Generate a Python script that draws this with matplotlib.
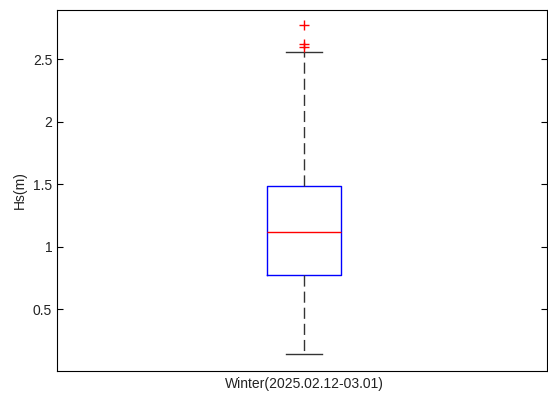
import matplotlib
matplotlib.use("Agg")
import matplotlib.pyplot as plt

plt.rcParams['font.family'] = ['Liberation Sans', 'DejaVu Sans']

# box statistics (Hs in metres)
season = "Winter(2025.02.12-03.01)"
q1 = 0.772
median = 1.116
q3 = 1.484
whisker_low = 0.14
whisker_high = 2.553
outliers = [2.772, 2.618, 2.596]

stats = [dict(label=season, q1=q1, med=median, q3=q3,
              whislo=whisker_low, whishi=whisker_high, fliers=outliers)]

fig = plt.figure(figsize=(5.48, 3.96), dpi=100)
ax = fig.add_axes([0.104, 0.0631, 0.894, 0.9116])

ax.bxp(stats, positions=[1], widths=0.152, showfliers=True,
       boxprops=dict(color='blue', lw=1.0),
       medianprops=dict(color='red', lw=1.0),
       whiskerprops=dict(color='#333333', lw=1.0, ls=(0, (8, 3.6))),
       capprops=dict(color='#333333', lw=1.0),
       capwidths=0.075,
       flierprops=dict(marker='+', markeredgecolor='red', markersize=7,
                       markeredgewidth=1.0, linestyle='none'))

ax.set_xlim(0.496, 1.496)
ax.set_ylim(0.004, 2.892)
ax.set_yticks([0.5, 1, 1.5, 2, 2.5])
ax.set_yticklabels(['0.5', '1', '1.5', '2', '2.5'])
ax.set_ylabel('Hs(m)', fontsize=10, color='#222222')
ax.tick_params(axis='y', direction='in', right=True, labelsize=10, length=4,
               labelcolor='#222222')
ax.tick_params(axis='x', length=0, labelsize=10, pad=4, labelcolor='#222222')
for s in ax.spines.values():
    s.set_linewidth(0.8)

fig.savefig('out.png', dpi=100)
